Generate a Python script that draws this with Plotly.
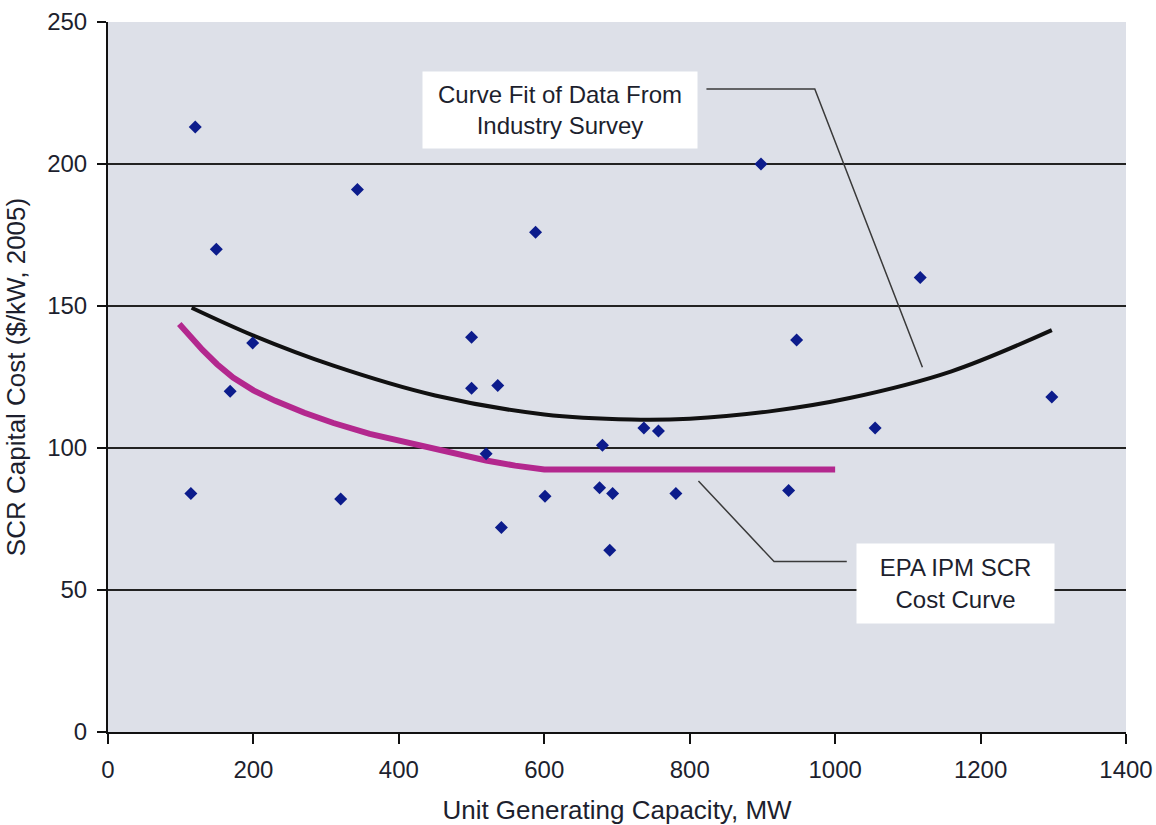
import plotly.graph_objects as go

# Survey data points (MW, $/kW)
survey_mw = [114, 120, 149, 168, 199, 320, 343, 500, 500, 520, 536, 541, 588, 601,
             676, 680, 690, 694, 737, 757, 781, 898, 936, 947, 1055, 1117, 1298]
survey_cost = [84, 213, 170, 120, 137, 82, 191, 139, 121, 98, 122, 72, 176, 83,
               86, 101, 64, 84, 107, 106, 84, 200, 85, 138, 107, 160, 118]

# Curve fit of survey data
fit_mw = [115, 200, 310, 450, 600, 720, 800, 910, 1020, 1160, 1298]
fit_cost = [149.4, 139.6, 129.0, 118.5, 111.8, 110.0, 110.3, 112.9, 117.6, 127.0, 141.5]

# EPA IPM SCR cost curve
epa_mw = [98, 115, 130, 150, 172, 200, 230, 270, 310, 360, 410, 460, 520, 560, 600, 1000]
epa_cost = [143.7, 138.5, 134.5, 129.5, 124.8, 120.3, 116.6, 112.4, 108.8, 105.0,
            102.0, 99.0, 95.6, 93.8, 92.4, 92.4]

# Leader lines for the callouts
leader1_x = [823, 972, 1120]
leader1_y = [226.4, 226.4, 128.4]
leader2_x = [812, 916, 1016]
leader2_y = [88.4, 60.0, 60.0]

x_ticks = [0, 200, 400, 600, 800, 1000, 1200, 1400]
y_ticks = [0, 50, 100, 150, 200, 250]

FONT = "Liberation Sans, Arial, sans-serif"
TXT = "#1d1f2e"

fig = go.Figure()

fig.add_trace(go.Scatter(x=leader1_x, y=leader1_y, mode="lines",
                         line=dict(color="#3a3a3a", width=1.5), hoverinfo="skip"))
fig.add_trace(go.Scatter(x=leader2_x, y=leader2_y, mode="lines",
                         line=dict(color="#3a3a3a", width=1.5), hoverinfo="skip"))

fig.add_trace(go.Scatter(x=epa_mw, y=epa_cost, mode="lines", line_shape="linear",
                         line=dict(color="#b3288e", width=6)))
fig.add_trace(go.Scatter(x=fit_mw, y=fit_cost, mode="lines", line_shape="spline",
                         line=dict(color="#111111", width=4)))
fig.add_trace(go.Scatter(x=survey_mw, y=survey_cost, mode="markers",
                         marker=dict(symbol="diamond", size=10, color="#0c1c8c",
                                     line=dict(width=0))))

fig.add_annotation(x=621, y=219, xref="x", yref="y",
                   text="Curve Fit of Data From<br>Industry Survey",
                   showarrow=False, bgcolor="white", width=270, height=72, borderpad=2,
                   font=dict(family=FONT, size=24, color=TXT))
fig.add_annotation(x=1165, y=52.2, xref="x", yref="y",
                   text="EPA IPM SCR<br>Cost Curve",
                   showarrow=False, bgcolor="white", width=193, height=75, borderpad=2,
                   font=dict(family=FONT, size=24, color=TXT))

fig.update_layout(
    width=1156, height=825,
    margin=dict(l=108, r=30, t=22, b=93),
    paper_bgcolor="white",
    plot_bgcolor="#dde0e8",
    showlegend=False,
    font=dict(family=FONT, color=TXT),
)

fig.update_xaxes(range=[0, 1400], tickvals=x_ticks, showgrid=False, zeroline=False,
                 automargin=False,
                 showline=True, linecolor="#111111", linewidth=2,
                 ticks="outside", ticklen=10, tickwidth=2, tickcolor="#111111",
                 ticklabelstandoff=5,
                 tickfont=dict(size=24, family=FONT, color=TXT),
                 title=dict(text="Unit Generating Capacity, MW",
                            font=dict(size=26, family=FONT, color=TXT), standoff=30))
fig.update_yaxes(range=[0, 250], tickvals=y_ticks, showgrid=True, gridcolor="#222222",
                 gridwidth=1.5, zeroline=False, automargin=False,
                 showline=True, linecolor="#111111", linewidth=2,
                 ticks="outside", ticklen=9, tickwidth=2, tickcolor="#111111",
                 ticklabelstandoff=5,
                 tickfont=dict(size=24, family=FONT, color=TXT),
                 title=dict(text="SCR Capital Cost ($/kW, 2005)",
                            font=dict(size=26, family=FONT, color=TXT), standoff=14))

fig.write_html("out.html", config={"displayModeBar": False},
               post_script="document.body.style.margin='0';")
